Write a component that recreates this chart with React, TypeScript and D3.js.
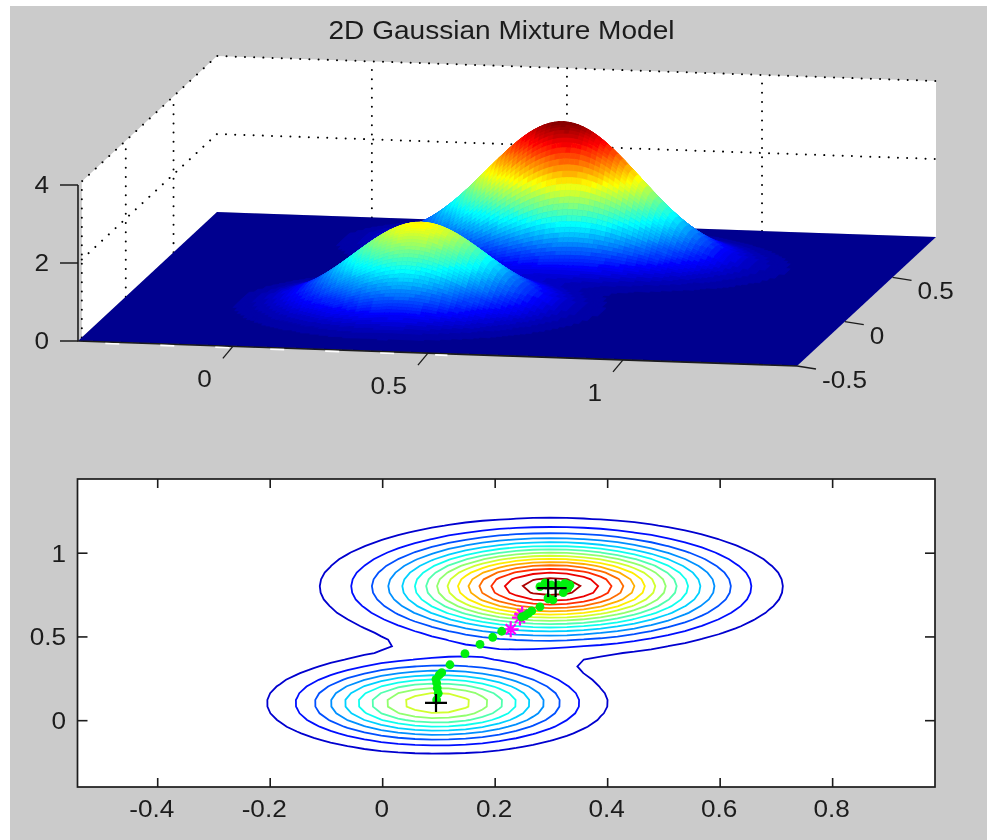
import React, { useMemo } from "react";
import * as d3 from "d3";

// The picture is a density of a two-component mixture, so what is read from it
// are each component's height, centre and spread, not a table of grid values.
const contourPeak = [1.97, 3.14];
const contourSigmaX = [0.141, 0.175];
const contourSigmaY = [0.141, 0.175];
const contourTilt = [0, 0];
const contourMeanX = [0.097, 0.3];
const contourMeanY = [0.105, 0.8];

const surfacePeak = [2.17, 3.46];
const surfaceSigmaX = [0.17, 0.205];
const surfaceSigmaY = [0.14, 0.13];
const surfaceTilt = [0, -0.25];
const surfaceMeanX = [0.359, 0.58];
const surfaceMeanY = [-0.01, 0.594];

const contourLevels = [0.2, 0.4, 0.6, 0.8, 1.0, 1.2, 1.4, 1.6, 1.8, 2.0, 2.2, 2.4, 2.6, 2.8, 3.0];

// 3-D axes
const surfXDomain = [-0.397, 1.446];
const surfYDomain = [-0.5, 0.955];
const surfZDomain = [0, 4];
const surfXTicks = [0, 0.5, 1];
const surfXTickLabels = ["0", "0.5", "1"];
const surfYTicks = [-0.5, 0, 0.5];
const surfYTickLabels = ["-0.5", "0", "0.5"];
const surfZTicks = [0, 2, 4];
const surfZTickLabels = ["0", "2", "4"];
const leftWallY = -0.46;

// Contour axes
const lowXDomain = [-0.5426, 0.982];
const lowYDomain = [-0.396, 1.443];
const lowXTicks = [-0.4, -0.2, 0, 0.2, 0.4, 0.6, 0.8];
const lowXTickLabels = ["-0.4", "-0.2", "0", "0.2", "0.4", "0.6", "0.8"];
const lowYTicks = [0, 0.5, 1];
const lowYTickLabels = ["0", "0.5", "1"];

// Markers
const pathX = [0.096, 0.0988, 0.097, 0.096, 0.0948, 0.1006, 0.105, 0.1196, 0.1463, 0.173, 0.1956, 0.2116, 0.247, 0.253, 0.259, 0.265, 0.2796, 0.2944, 0.3028, 0.294, 0.321, 0.3294, 0.333, 0.324, 0.312, 0.3, 0.2885, 0.2796];
const pathY = [0.1236, 0.1636, 0.195, 0.225, 0.247, 0.273, 0.2866, 0.334, 0.4, 0.456, 0.498, 0.534, 0.619, 0.627, 0.641, 0.655, 0.68, 0.7266, 0.7206, 0.7325, 0.764, 0.792, 0.81, 0.82, 0.81, 0.81, 0.822, 0.8];
const starX = [0.2276, 0.244, 0.248];
const starY = [0.5457, 0.615, 0.635];
const plusX = [0.0948, 0.2942, 0.3075];
const plusY = [0.1057, 0.792, 0.792];

const jetStops = ["#00008f", "#0000ff", "#00ffff", "#ffff00", "#ff0000", "#800000"];
const jetPos = [0, 0.111, 0.365, 0.619, 0.873, 1];
const jet = d3.scaleLinear<string>().domain(jetPos).range(jetStops).clamp(true);

const density = (x: number, y: number, peak: number[], sx: number[], sy: number[], rho: number[], mx: number[], my: number[]) =>
  d3.sum(peak, (p, i) => {
    const u = (x - mx[i]) / sx[i];
    const v = (y - my[i]) / sy[i];
    return p * Math.exp(-(u * u - 2 * rho[i] * u * v + v * v) / (2 * (1 - rho[i] * rho[i])));
  });

const INK = "#1c1c1c";
const FONT = "'Liberation Sans', Arial, sans-serif";

function Label({ x, y, anchor = "middle", size = 24, sx = 1.09, children }: any) {
  return (
    <text transform={`translate(${x},${y}) scale(${sx},1)`} textAnchor={anchor} fontSize={size} fontFamily={FONT} fill={INK}>
      {children}
    </text>
  );
}

export default function App() {
  const sx = d3.scaleLinear().domain(surfXDomain).range([0, 719]);
  const sxDrop = d3.scaleLinear().domain(surfXDomain).range([0, 25]);
  const sy = d3.scaleLinear().domain(surfYDomain).range([0, 139]);
  const syDrop = d3.scaleLinear().domain(surfYDomain).range([0, -129]);
  const sz = d3.scaleLinear().domain(surfZDomain).range([0, -156]);
  const project = (x: number, y: number, z: number): [number, number] => [
    78 + sx(x) + sy(y),
    341 + sxDrop(x) + syDrop(y) + sz(z),
  ];
  const [x0, x1] = surfXDomain;
  const [y0, y1] = surfYDomain;
  const [, zTop] = surfZDomain;
  const poly = (pts: [number, number][]) => d3.line()(pts) + "Z";

  const quads = useMemo(() => {
    const zMax = d3.max(surfacePeak)!;
    const xs = d3.range(x0, x1 + 0.013, 0.013);
    const ys = d3.range(y1, y0 - 0.009, -0.009);
    const out: { d: string; c: string }[] = [];
    for (let j = 0; j < ys.length - 1; j++) {
      for (let i = 0; i < xs.length - 1; i++) {
        const cs: [number, number][] = [[xs[i], ys[j]], [xs[i + 1], ys[j]], [xs[i + 1], ys[j + 1]], [xs[i], ys[j + 1]]];
        const zs = cs.map(([a, b]) => density(a, b, surfacePeak, surfaceSigmaX, surfaceSigmaY, surfaceTilt, surfaceMeanX, surfaceMeanY));
        const z = d3.mean(zs)!;
        const idx = Math.floor((z / zMax) * 64);
        if (idx < 1) continue;
        out.push({
          d: poly(cs.map(([a, b], k) => project(a, b, zs[k]))),
          c: jet((idx + 0.5) / 64),
        });
      }
    }
    return out;
  }, []);

  const lx = d3.scaleLinear().domain(lowXDomain).range([77.5, 935]);
  const ly = d3.scaleLinear().domain(lowYDomain).range([787, 479]);

  const contourPaths = useMemo(() => {
    const zMax = d3.max(contourPeak)!;
    const stepX = 0.03;
    const stepY = 0.04;
    const gx = d3.range(lowXDomain[0], lowXDomain[1] + stepX, stepX);
    const gy = d3.range(lowYDomain[0], lowYDomain[1] + stepY, stepY);
    const values: number[] = [];
    for (const v of gy) for (const u of gx) values.push(density(u, v, contourPeak, contourSigmaX, contourSigmaY, contourTilt, contourMeanX, contourMeanY));
    const gen = d3.contours().size([gx.length, gy.length]).smooth(true).thresholds(contourLevels);
    const path = d3.geoPath(
      d3.geoTransform({
        point(a: number, b: number) {
          (this as any).stream.point(
            lx(lowXDomain[0] + (a - 0.5) * stepX),
            ly(lowYDomain[0] + (b - 0.5) * stepY),
          );
        },
      }),
    );
    return gen(values).map((c) => ({ d: path(c as any) || "", c: jet(c.value / zMax) }));
  }, []);

  const wall: [number, number][] = [
    project(x0, leftWallY, zTop),
    project(x0, y1, zTop),
    project(x1, y1, zTop),
    project(x1, y1, 0),
    project(x0, y1, 0),
    project(x0, leftWallY, 0),
  ];

  const dotted = { fill: "none", stroke: "#000", strokeWidth: 2, strokeDasharray: "0.01 9.2", strokeLinecap: "round" as const };
  const zAxisTop = project(x0, y0, zTop);
  const origin = project(x0, y0, 0);
  const frontRight = project(x1, y0, 0);
  const glintStart = project(-0.327, y0, 0);
  const glintEnd = project(0.55, y0, 0);

  const plusPath = (x: number, y: number) =>
    `M${lx(x) - 11},${ly(y)}H${lx(x) + 11}M${lx(x)},${ly(y) - 9}V${ly(y) + 9}`;
  const starPath = (x: number, y: number) => {
    const a = lx(x);
    const b = ly(y);
    return `M${a - 8},${b}H${a + 8}M${a},${b - 8}V${b + 8}M${a - 5},${b - 5}L${a + 5},${b + 5}M${a - 5},${b + 5}L${a + 5},${b - 5}`;
  };

  return (
    <svg width={987} height={840} style={{ position: "absolute", left: 0, top: 0 }}>
      <defs>
        <filter id="soft" x="0" y="0" width="100%" height="100%">
          <feGaussianBlur stdDeviation="0.45" />
        </filter>
      </defs>
      <rect width={987} height={840} fill="#fff" />
      <g filter="url(#soft)">
        <rect x={10} y={6} width={977} height={834} fill="#cbcbcb" />

        <Label x={501.5} y={39} size={25.5} sx={1.1}>2D Gaussian Mixture Model</Label>

        {/* 3-D walls and grid */}
        <path d={poly(wall)} fill="#fff" />
        <path d={d3.line()([project(x0, leftWallY, 0), project(x0, leftWallY, zTop), project(x0, y1, zTop), project(x1, y1, zTop)])!} {...dotted} />
        <path d={d3.line()([project(x0, leftWallY, 2), project(x0, y1, 2), project(x1, y1, 2)])!} {...dotted} />
        {surfXTicks.map((t) => (
          <path key={t} d={d3.line()([project(t, y1, 0), project(t, y1, zTop)])!} {...dotted} />
        ))}
        {surfYTicks.slice(1).map((t) => (
          <path key={t} d={d3.line()([project(x0, t, 0), project(x0, t, zTop)])!} {...dotted} />
        ))}

        {/* Surface */}
        <path d={poly([project(x0, y0, 0), project(x1, y0, 0), project(x1, y1, 0), project(x0, y1, 0)])} fill={jet(0)} />
        <g strokeWidth={0.7}>
          {quads.map((q, i) => (
            <path key={i} d={q.d} fill={q.c} stroke={q.c} />
          ))}
        </g>

        {/* 3-D axes */}
        <path d={`M${zAxisTop[0]},${zAxisTop[1]}L${origin[0]},${origin[1]}L${frontRight[0]},${frontRight[1]}`} fill="none" stroke={INK} strokeWidth={1.6} />
        <line x1={glintStart[0]} y1={glintStart[1] + 1.5} x2={glintEnd[0]} y2={glintEnd[1] + 1.5} stroke="#fff" strokeWidth={1.6} strokeDasharray="14 41" />
        {surfZTicks.map((t, i) => {
          const [a, b] = project(x0, y0, t);
          return (
            <g key={t}>
              <line x1={a - 18} x2={a} y1={b} y2={b} stroke={INK} strokeWidth={1.5} />
              <Label x={49} y={b + 8} anchor="end">{surfZTickLabels[i]}</Label>
            </g>
          );
        })}
        {surfXTicks.map((t, i) => {
          const [a, b] = project(t, y0, 0);
          return (
            <g key={t}>
              <line x1={a} y1={b} x2={a - 10} y2={b + 12} stroke={INK} strokeWidth={1.3} />
              <Label x={a - 21} y={b + 41} anchor="end">{surfXTickLabels[i]}</Label>
            </g>
          );
        })}
        {surfYTicks.map((t, i) => {
          const [a, b] = project(x1, t, 0);
          return (
            <g key={t}>
              <line x1={a} y1={b} x2={a + 19} y2={b + 3} stroke={INK} strokeWidth={1.3} />
              <Label x={a + 25} y={b + 22} anchor="start">{surfYTickLabels[i]}</Label>
            </g>
          );
        })}

        {/* Contour panel */}
        <rect x={77.5} y={479} width={857.5} height={308} fill="#fff" stroke={INK} strokeWidth={1.7} />
        {lowXTicks.map((t, i) => (
          <g key={t}>
            <line x1={lx(t)} x2={lx(t)} y1={787} y2={778} stroke={INK} strokeWidth={1.6} />
            <line x1={lx(t)} x2={lx(t)} y1={479} y2={488} stroke={INK} strokeWidth={1.6} />
            <Label x={lx(t) - (t < 0 ? 6 : 1)} y={817}>{lowXTickLabels[i]}</Label>
          </g>
        ))}
        {lowYTicks.map((t, i) => (
          <g key={t}>
            <line x1={77.5} x2={87.5} y1={ly(t)} y2={ly(t)} stroke={INK} strokeWidth={1.6} />
            <line x1={935} x2={925} y1={ly(t)} y2={ly(t)} stroke={INK} strokeWidth={1.6} />
            <Label x={66} y={ly(t) + 8.5} anchor="end">{lowYTickLabels[i]}</Label>
          </g>
        ))}
        {contourPaths.map((c, i) => (
          <path key={i} d={c.d} fill="none" stroke={c.c} strokeWidth={1.8} />
        ))}

        {/* Markers */}
        {starX.map((x, i) => (
          <path key={i} d={starPath(x, starY[i])} stroke="#ff00ff" strokeWidth={2.2} fill="none" />
        ))}
        {pathX.map((x, i) => (
          <circle key={i} cx={lx(x)} cy={ly(pathY[i])} r={4.4} fill="#00f010" />
        ))}
        {plusX.map((x, i) => (
          <path key={i} d={plusPath(x, plusY[i])} stroke="#000" strokeWidth={2.2} fill="none" />
        ))}
      </g>
    </svg>
  );
}
